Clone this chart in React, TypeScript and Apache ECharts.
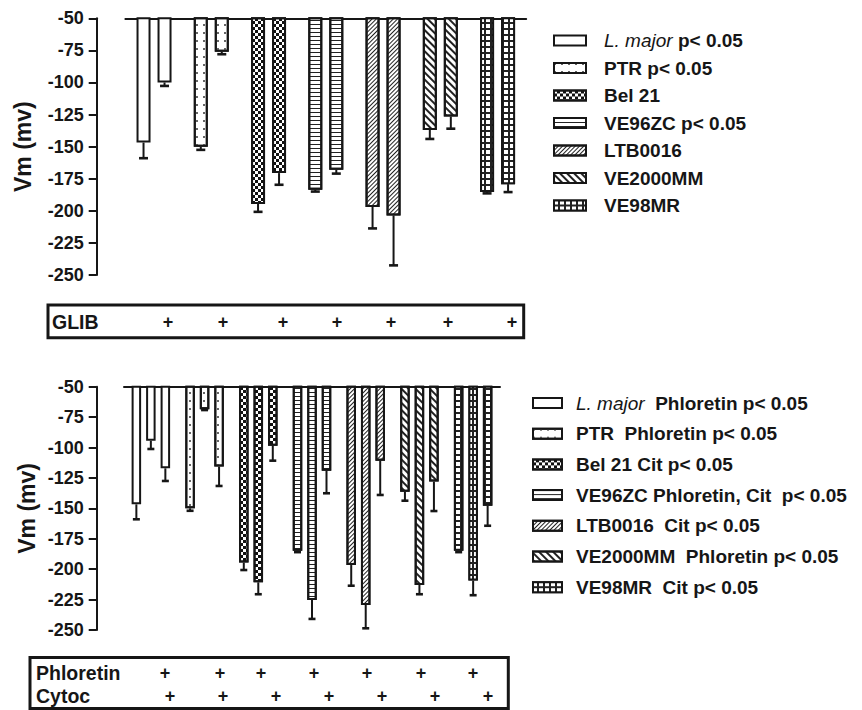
import React, { useEffect, useRef } from "react";
import * as echarts from "echarts";

// ---------- data ----------
const strains = ["L. major", "PTR", "Bel 21", "VE96ZC", "LTB0016", "VE2000MM", "VE98MR"];
const topLegendNames = ["L. major p< 0.05", "PTR p< 0.05", "Bel 21", "VE96ZC p< 0.05", "LTB0016", "VE2000MM", "VE98MR"];
const bottomLegendNames = [
  "L. major  Phloretin p< 0.05",
  "PTR  Phloretin p< 0.05",
  "Bel 21 Cit p< 0.05",
  "VE96ZC Phloretin, Cit  p< 0.05",
  "LTB0016  Cit p< 0.05",
  "VE2000MM  Phloretin p< 0.05",
  "VE98MR  Cit p< 0.05",
];

// top panel (control, + GLIB): mean and SEM
const topControl = [-146.8, -150, -194.6, -183.6, -197, -137, -185.4];
const topControlSem = [12.2, 2.5, 6.2, 1.4, 16.7, 7, 1];
const topGlib = [-100, -76, -170.6, -168, -203.6, -126.6, -179.2];
const topGlibSem = [2.7, 2, 9.1, 3, 38.9, 9.4, 6.2];

// bottom panel (control, + Phloretin, + Cytoc)
const botControl = [-146.7, -150, -194.6, -184.8, -196.6, -136.3, -184.8];
const botControlSem = [12.3, 2, 6.1, 1.2, 17, 7.4, 1.2];
const botPhloretin = [-94.4, -68.6, -210.8, -225.3, -229.4, -213, -209.4];
const botPhloretinSem = [6.8, 0.6, 9.8, 15.6, 19.2, 7.6, 12];
const botCytoc = [-117.1, -115.7, -98.5, -119, -110.8, -128, -147.8];
const botCytocSem = [10.4, 15.9, 12.3, 18.6, 28.2, 24.2, 16.5];

const yMin = -250;
const yMax = -50;
const yStep = 25;

const tableGlib = ["GLIB"];
const tableBottom = ["Phloretin", "Cytoc"];
const plusSign = "+";

// ---------- styles ----------
const FONT = "'Liberation Sans', Arial, Helvetica, sans-serif";
const INK = "#161616";

const patterns: any[] = [
  { color: "#ffffff" },
  { color: "#ffffff", decal: { symbol: "rect", symbolSize: 1, color: "#666", dashArrayX: [1.5, 5], dashArrayY: [1.5, 5.5], rotation: 0 } },
  { color: "#ffffff", decal: { symbol: "rect", symbolSize: 1, color: "#111", dashArrayX: [[3, 3], [0, 3, 3, 0]], dashArrayY: [3, 0], rotation: 0 } },
  { color: "#ffffff", decal: { symbol: "rect", symbolSize: 1, color: "#222", dashArrayX: [1, 0], dashArrayY: [1, 2.2], rotation: 0 } },
  { color: "#ffffff", decal: { symbol: "rect", symbolSize: 1, color: "#222", dashArrayX: [1, 0], dashArrayY: [1, 2], rotation: -Math.PI / 4 } },
  { color: "#ffffff", decal: { symbol: "rect", symbolSize: 1, color: "#222", dashArrayX: [1, 0], dashArrayY: [1.2, 2.8], rotation: Math.PI / 4 } },
  { color: "#222222", decal: { symbol: "rect", symbolSize: 1, color: "#ffffff", dashArrayX: [3.6, 1.2], dashArrayY: [3.6, 1.2], rotation: 0 } },
];

const TOP = { left: 125.4, top: 18.3, width: 400.8, height: 256.7, axisX: 96.7, barW: 14, gap: 0.5, cap: 4.5, nameGap: 62 };
const BOT = { left: 124, top: 386.7, width: 376, height: 243.3, axisX: 96.7, barW: 9.5, gap: 0.526, cap: 3.5, nameGap: 58 };

function slotOffsets(n: number, w: number, g: number) {
  const total = n * w + (n - 1) * w * g;
  return Array.from({ length: n }, (_, k) => -total / 2 + k * w * (1 + g) + w / 2);
}

function buildBars(chart: number, names: string[], groups: number[][], cfg: any) {
  const out: any[] = [];
  groups.forEach((vals, k) => {
    names.forEach((name, s) => {
      out.push({
        type: "bar",
        name,
        xAxisIndex: chart,
        yAxisIndex: chart,
        stack: `c${chart}-${k}`,
        barWidth: cfg.barW,
        barGap: `${cfg.gap * 100}%`,
        clip: true,
        silent: true,
        data: vals.map((v, i) => (i === s ? v : null)),
        itemStyle: { ...patterns[s], borderColor: INK, borderWidth: 2 },
      });
    });
  });
  return out;
}

function buildErrors(chart: number, groups: number[][], sems: number[][], cfg: any) {
  const offs = slotOffsets(groups.length, cfg.barW, cfg.gap);
  const data: number[][] = [];
  groups.forEach((vals, k) => vals.forEach((v, i) => data.push([i, k, v, v - sems[k][i]])));
  return {
    type: "custom",
    xAxisIndex: chart,
    yAxisIndex: chart,
    silent: true,
    z: 3,
    encode: { x: 0, y: 2 },
    data,
    renderItem: (_p: any, api: any) => {
      const cat = api.value(0);
      const slot = api.value(1);
      const p0 = api.coord([cat, api.value(2)]);
      const p1 = api.coord([cat, api.value(3)]);
      const x = p0[0] + offs[slot];
      return {
        type: "group",
        children: [
          { type: "line", shape: { x1: x, y1: p0[1], x2: x, y2: p1[1] }, style: { stroke: INK, lineWidth: 2 } },
          { type: "line", shape: { x1: x - cfg.cap, y1: p1[1], x2: x + cfg.cap, y2: p1[1] }, style: { stroke: INK, lineWidth: 2.6 } },
        ],
      };
    },
  };
}

const legendFmt = (name: string) => (name.startsWith("L. major") ? `{i|L. major}${name.slice(8)}` : name);

function yAxis(grid: number, cfg: any) {
  return {
    type: "value",
    gridIndex: grid,
    min: yMin,
    max: yMax,
    interval: yStep,
    offset: cfg.left - cfg.axisX,
    name: "Vm (mv)",
    nameLocation: "middle",
    nameRotate: 90,
    nameGap: cfg.nameGap,
    nameTextStyle: { fontFamily: FONT, fontSize: 23, fontWeight: "bold", color: INK },
    axisLine: { show: true, lineStyle: { color: INK, width: 2 } },
    axisTick: { show: true, length: 8, lineStyle: { color: INK, width: 2 } },
    axisLabel: { margin: 13, fontFamily: FONT, fontSize: 18, fontWeight: "bold", color: INK },
    splitLine: { show: false },
  };
}

function xAxis(grid: number) {
  return {
    type: "category",
    gridIndex: grid,
    data: strains,
    position: "top",
    axisLine: { show: true, onZero: false, lineStyle: { color: INK, width: 2 } },
    axisTick: { show: false },
    axisLabel: { show: false },
  };
}

function legend(names: string[], left: number, top: number, w: number, gap: number, pad: number) {
  return {
    data: names,
    orient: "vertical",
    left,
    top,
    padding: 0,
    icon: "rect",
    itemWidth: w,
    itemHeight: 10,
    itemGap: gap,
    selectedMode: false,
    itemStyle: { borderColor: INK, borderWidth: 2 },
    formatter: legendFmt,
    textStyle: {
      fontFamily: FONT,
      fontSize: 19,
      fontWeight: "bold",
      color: INK,
      lineHeight: 19,
      padding: [0, 0, 0, pad],
      rich: { i: { fontFamily: FONT, fontSize: 19, fontStyle: "italic", fontWeight: "normal", color: INK } },
    },
  };
}

const txt = (text: string, x: number, y: number, size: number, align = "left") => ({
  type: "text",
  x,
  y,
  style: { text, fontFamily: FONT, fontSize: size, fontWeight: "bold", fill: INK, textAlign: align, textVerticalAlign: "middle" },
  silent: true,
});

const glibPlusX = [168, 223, 283, 337, 391, 448, 512];
const phlorPlusX = [165, 220, 261, 314, 367, 421, 473];
const cytocPlusX = [170, 223, 276, 329, 382, 435, 488];

export default function App() {
  const ref = useRef<HTMLDivElement>(null);
  useEffect(() => {
    if (!ref.current) return;
    const chart = echarts.init(ref.current, undefined, { renderer: "svg" });
    const topGroups = [topControl, topGlib];
    const topSems = [topControlSem, topGlibSem];
    const botGroups = [botControl, botPhloretin, botCytoc];
    const botSems = [botControlSem, botPhloretinSem, botCytocSem];
    chart.setOption({
      animation: false,
      textStyle: { fontFamily: FONT },
      grid: [
        { left: TOP.left, top: TOP.top, width: TOP.width, height: TOP.height },
        { left: BOT.left, top: BOT.top, width: BOT.width, height: BOT.height },
      ],
      xAxis: [xAxis(0), xAxis(1)],
      yAxis: [yAxis(0, TOP), yAxis(1, BOT)],
      legend: [legend(topLegendNames, 553, 31, 32, 8.5, 13), legend(bottomLegendNames, 532, 393.5, 29, 11.7, 9)],
      series: [
        ...buildBars(0, topLegendNames, topGroups, TOP),
        ...buildBars(1, bottomLegendNames, botGroups, BOT),
        buildErrors(0, topGroups, topSems, TOP),
        buildErrors(1, botGroups, botSems, BOT),
      ],
      graphic: [
        { type: "rect", shape: { x: 48, y: 305, width: 475.7, height: 32.7 }, style: { fill: "none", stroke: INK, lineWidth: 3 }, silent: true },
        txt(tableGlib[0], 52, 322, 19.5),
        ...glibPlusX.map((x) => txt(plusSign, x, 322, 18, "center")),
        { type: "rect", shape: { x: 30, y: 657.5, width: 478.3, height: 51 }, style: { fill: "none", stroke: INK, lineWidth: 3 }, silent: true },
        txt(tableBottom[0], 36, 673, 19.5),
        txt(tableBottom[1], 36, 696, 19.5),
        ...phlorPlusX.map((x) => txt(plusSign, x, 673, 18, "center")),
        ...cytocPlusX.map((x) => txt(plusSign, x, 696, 18, "center")),
      ],
    });
    return () => chart.dispose();
  }, []);
  return <div ref={ref} style={{ position: "fixed", left: 0, top: 0, width: 862, height: 710, background: "#fff" }} />;
}
